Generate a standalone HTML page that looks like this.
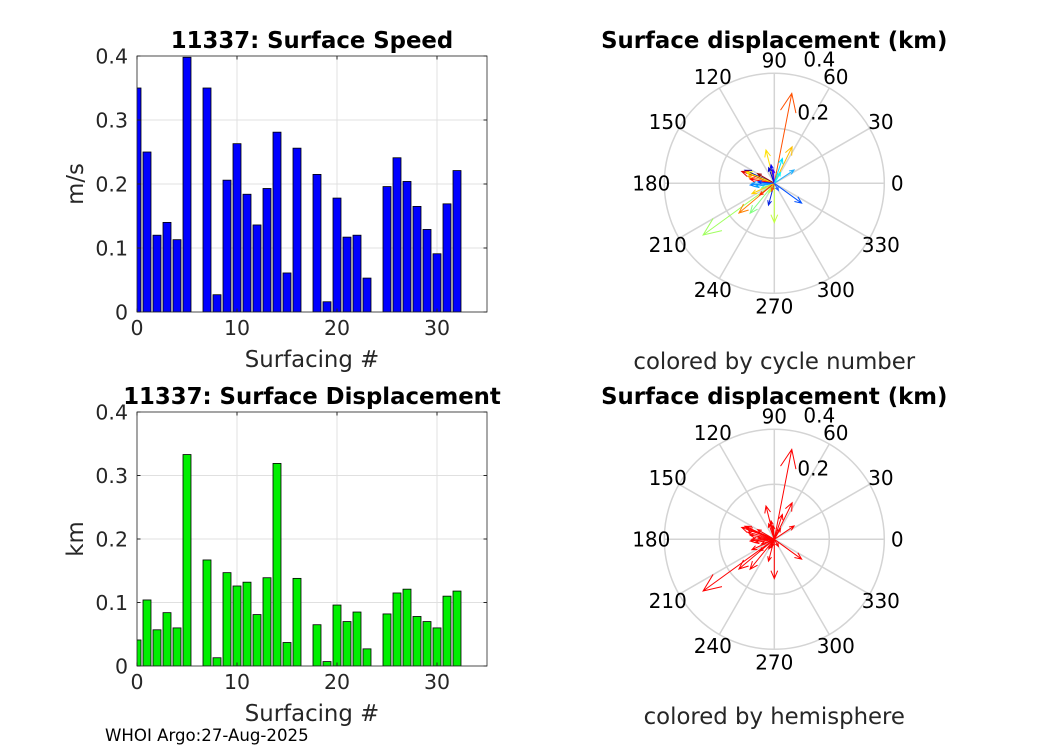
<!DOCTYPE html>
<html><head><meta charset="utf-8"><style>
body{margin:0;background:#fff;}
svg{display:block;font-family:"DejaVu Sans","Liberation Sans",sans-serif;}
</style></head><body>
<svg id="fig" width="1050" height="750" viewBox="0 0 1050 750"></svg>
<script>
const cycles=[0,1,2,3,4,5,6,7,8,9,10,11,12,13,14,15,16,17,18,19,20,21,22,23,24,25,26,27,28,29,30,31,32];
const speedVals=[0.35,0.25,0.12,0.14,0.113,0.398,0,0.35,0.027,0.206,0.263,0.184,0.136,0.193,0.281,0.061,0.256,0,0.215,0.016,0.178,0.117,0.12,0.053,0,0.196,0.241,0.204,0.165,0.129,0.091,0.169,0.221];
const dispVals=[0.041,0.104,0.057,0.084,0.06,0.333,0,0.167,0.013,0.147,0.126,0.132,0.081,0.139,0.319,0.037,0.138,0,0.065,0.007,0.096,0.07,0.085,0.027,0,0.082,0.115,0.121,0.078,0.07,0.06,0.11,0.118];
const xTicks=[0,10,20,30];
const yTicks=[0,0.1,0.2,0.3,0.4];
const yTickLabels=["0","0.1","0.2","0.3","0.4"];
const arrowAng=[79,216,64,104,72,34,324,270,255,220,231,156,160,158,150,100,180,184,219,110,165,200,190,240,170,95,60,205,175,250,300];
const arrowMag=[0.333,0.32,0.148,0.125,0.095,0.087,0.123,0.143,0.082,0.168,0.14,0.117,0.126,0.11,0.07,0.068,0.082,0.088,0.068,0.06,0.1,0.05,0.07,0.04,0.09,0.05,0.045,0.09,0.06,0.03,0.03];
const arrowCol=["#ff5000","#a0ff60","#ffc000","#ffe000","#00e0ff","#20b0ff","#0050ff","#c0ff40","#0020e0","#ff8000","#80ff80","#0000a0","#e00000","#ffff00","#a00000","#0000ff","#40c0ff","#0080ff","#ff2000","#0000c0","#ffa000","#60ffa0","#00a0ff","#c0ff40","#ff0000","#4000ff","#00ffff","#ffd000","#0030ff","#ff6000","#2060ff"];
const rhoTicks=[0.2,0.4];
const angTicks=[0,30,60,90,120,150,180,210,240,270,300,330];

const svg=document.getElementById('fig');
const NS='http://www.w3.org/2000/svg';
function mk(tag,attrs,parent){const e=document.createElementNS(NS,tag);for(const k in attrs)e.setAttribute(k,attrs[k]);(parent||svg).appendChild(e);return e;}
function txt(s,x,y,size,anchor,extra){const t=mk('text',Object.assign({x:x,y:y,'font-size':size,'text-anchor':anchor||'middle',fill:'#262626'},extra||{}));t.textContent=s;return t;}

function barChart(vals,top,bottom,title,ylabel,color,prefix){
  const L=137,R=487;
  const xs=v=>L+(v/35)*(R-L);
  const ys=v=>bottom-(v/0.4)*(bottom-top);
  const g=mk('g',{});
  
  
  mk('rect',{x:L,y:top,width:R-L,height:bottom-top,fill:'#fff'},g);
  xTicks.forEach(t=>{const l=mk('line',{x1:xs(t),x2:xs(t),y1:top,y2:bottom,stroke:'#e0e0e0','stroke-width':1},g);
    });
  yTicks.forEach(t=>{const l=mk('line',{x1:L,x2:R,y1:ys(t),y2:ys(t),stroke:'#e0e0e0','stroke-width':1},g);
    });
  const cp='clip-'+prefix;
  const c=mk('clipPath',{id:cp},g);mk('rect',{x:L,y:top,width:R-L,height:bottom-top},c);
  const bg=mk('g',{'clip-path':'url(#'+cp+')'},g);
  cycles.forEach((cy,i)=>{const v=vals[i];if(v<=0)return;
    const b=mk('rect',{x:xs(cy-0.4),y:ys(v),width:xs(0.8)-xs(0),height:ys(0)-ys(v),fill:color,stroke:'#000','stroke-width':0.8},bg);
    });
  mk('rect',{x:L,y:top,width:R-L,height:bottom-top,fill:'none',stroke:'#262626','stroke-width':0.8},g);
  xTicks.forEach(t=>{mk('line',{x1:xs(t),x2:xs(t),y1:bottom,y2:bottom-3.5,stroke:'#262626'},g);mk('line',{x1:xs(t),x2:xs(t),y1:top,y2:top+3.5,stroke:'#262626'},g);
    const tl=txt(String(t),xs(t),bottom+23,20.5);});
  yTicks.forEach((t,i)=>{mk('line',{x1:L,x2:L+3.5,y1:ys(t),y2:ys(t),stroke:'#262626'},g);mk('line',{x1:R,x2:R-3.5,y1:ys(t),y2:ys(t),stroke:'#262626'},g);
    const tl=txt(yTickLabels[i],L-9,ys(t)+7.5,20.5,'end');});
  const tt=txt(title,312,top-8,22.8,'middle',{'font-weight':'bold',fill:'#000'});
  
  const xl=txt('Surfacing #',312,bottom+55,22.8);
  
  const cy=(top+bottom)/2;
  const yl=txt(ylabel,83,cy,22.8,'middle',{transform:'rotate(-90 83 '+cy+')'});
  
}
barChart(speedVals,56,312,'11337: Surface Speed','m/s','#0000ff','speed');
barChart(dispVals,412,666,'11337: Surface Displacement','km','#00ee00','displacement');

function polar(cx,cy,titleY,caption,capY,mono,prefix){
  const R=110,rmax=0.4;
  const g=mk('g',{});
  
  
  const rs=v=>v/rmax*R;
  angTicks.forEach(a=>{const r=a*Math.PI/180;
    mk('line',{x1:cx,y1:cy,x2:cx+R*Math.cos(r),y2:cy-R*Math.sin(r),stroke:'#d4d4d4','stroke-width':1.5},g);});
  rhoTicks.forEach(t=>{mk('circle',{cx:cx,cy:cy,r:rs(t),fill:'none',stroke:'#d4d4d4','stroke-width':1.5},g);});
  angTicks.forEach(a=>{const r=a*Math.PI/180;
    const tl=txt(String(a),cx+123*Math.cos(r),cy-123*Math.sin(r)+7,20,'middle',{fill:'#000'});
    });
  const l2=txt('0.2',cx+39,cy-64,20,'middle',{fill:'#000'});
  const l4=txt('0.4',cx+45,cy-117,20,'middle',{fill:'#000'});
  arrowAng.forEach((a,i)=>{const r=a*Math.PI/180,m=rs(arrowMag[i]);
    const tx=cx+m*Math.cos(r),ty=cy-m*Math.sin(r);
    const col=mono?'#ff0000':arrowCol[i];
    const hl=Math.max(4,m*0.22);
    const p=mk('path',{d:'M'+cx+' '+cy+'L'+tx+' '+ty+
      'M'+(tx-hl*Math.cos(r-0.4))+' '+(ty+hl*Math.sin(r-0.4))+'L'+tx+' '+ty+'L'+(tx-hl*Math.cos(r+0.4))+' '+(ty+hl*Math.sin(r+0.4)),
      fill:'none',stroke:col,'stroke-width':1},g);
    });
  const t=txt('Surface displacement (km)',cx,titleY,22.8,'middle',{'font-weight':'bold',fill:'#000'});
  
  const c=txt(caption,cx,capY,22.8);
  
}
polar(774.3,183.3,48,'colored by cycle number',369,false,'cycle-polar');
polar(774.3,539.3,404,'colored by hemisphere',724,true,'hemisphere-polar');
const f=txt('WHOI Argo:27-Aug-2025',105,741,16.6,'start',{fill:'#000'});

</script>
</body></html>
